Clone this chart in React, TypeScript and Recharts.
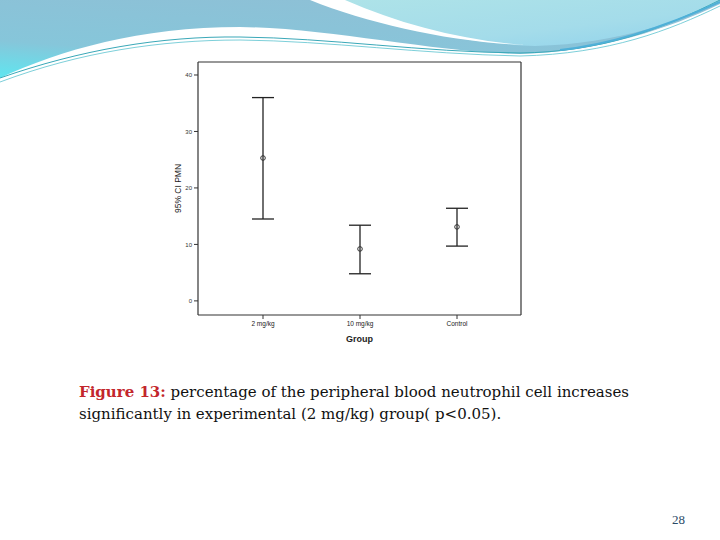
import React from "react";
import {
  ComposedChart,
  Scatter,
  ErrorBar,
  XAxis,
  YAxis,
  Label,
  CartesianGrid,
} from "recharts";

const groups = ["2 mg/kg", "10 mg/kg", "Control"];
const means = [25.3, 9.2, 13.1];
const lowers = [14.5, 4.8, 9.7];
const uppers = [36.0, 13.4, 16.4];
const yTicks = [0, 10, 20, 30, 40];

const data = groups.map((g, i) => ({
  group: g,
  mean: means[i],
  err: [means[i] - lowers[i], uppers[i] - means[i]],
}));

const OpenCircle = (props: any) => {
  const { cx, cy } = props;
  if (cx == null || cy == null) return null;
  return <circle cx={cx} cy={cy} r={2.3} fill="none" stroke="#333" strokeWidth={1} />;
};

function Waves() {
  return (
    <svg width={720} height={100} style={{ position: "absolute", left: 0, top: 0 }}>
      <defs>
        <linearGradient id="gBlue" x1="0" y1="1" x2="0.6" y2="0">
          <stop offset="0" stopColor="#5fe6f0" />
          <stop offset="0.35" stopColor="#86c6da" />
          <stop offset="1" stopColor="#8ec0d6" />
        </linearGradient>
        <linearGradient id="gLight" x1="0" y1="0" x2="1" y2="1">
          <stop offset="0" stopColor="#aee3e8" />
          <stop offset="0.6" stopColor="#a4dcea" />
          <stop offset="1" stopColor="#8fd2ec" />
        </linearGradient>
      </defs>
      <path
        d="M0,0 H720 V4 C670,28 600,52 520,54 C430,52 330,28 240,27 C140,27 60,50 0,78 Z"
        fill="url(#gBlue)"
      />
      <path
        d="M322,0 H720 V0 C690,18 620,44 535,46 C470,44 390,28 322,0 Z"
        fill="url(#gLight)"
      />
      <path
        d="M310,0 H345 C400,24 460,40 525,45 C450,42 370,24 310,0 Z"
        fill="#ffffff"
      />
      <path
        d="M0,78 C80,50 160,36 240,37 C330,38 420,52 520,53 C600,52 660,30 720,0"
        fill="none"
        stroke="#3aa8b8"
        strokeWidth={1}
      />
      <path
        d="M0,82 C80,52 160,40 240,40 C330,41 420,54 520,56 C610,54 670,30 720,6"
        fill="none"
        stroke="#5cc3cf"
        strokeWidth={0.8}
      />
      <path
        d="M560,50 C620,44 680,20 720,2"
        fill="none"
        stroke="#4fb0d8"
        strokeWidth={2}
      />
    </svg>
  );
}

export default function App() {
  return (
    <div
      style={{
        position: "absolute",
        left: 0,
        top: 0,
        width: 720,
        height: 540,
        background: "#ffffff",
        overflow: "hidden",
      }}
    >
      <Waves />
      <div style={{ position: "absolute", left: 160, top: 50 }}>
        <ComposedChart
          width={380}
          height={300}
          data={data}
          margin={{ top: 12, right: 19, bottom: 0, left: 0 }}
          style={{ fontFamily: "'Liberation Sans', Arial, sans-serif" }}
        >
          <CartesianGrid
            stroke="#333"
            strokeWidth={1.2}
            horizontalCoordinatesGenerator={({ offset }: any) => [offset.top]}
            verticalCoordinatesGenerator={({ offset }: any) => [offset.left + offset.width]}
          />
          <XAxis
            dataKey="group"
            type="category"
            height={35}
            padding={{ left: 65, right: 64 }}
            axisLine={{ stroke: "#333", strokeWidth: 1.2 }}
            tickLine={{ stroke: "#333" }}
            tickSize={4}
            tick={{ fontSize: 6.5, fill: "#222" }}
            interval={0}
          >
            <Label
              value="Group"
              position="insideBottom"
              offset={8}
              style={{ fontSize: 9, fontWeight: "bold", fill: "#222" }}
            />
          </XAxis>
          <YAxis
            type="number"
            domain={[-2.5, 42.3]}
            ticks={yTicks}
            width={38}
            axisLine={{ stroke: "#333", strokeWidth: 1.2 }}
            tickLine={{ stroke: "#333" }}
            tickSize={4}
            tickMargin={2}
            tick={{ fontSize: 6, fill: "#333" }}
            allowDataOverflow
          >
            <Label
              value="95% CI PMN"
              angle={-90}
              position="center"
              dx={-1}
              style={{ fontSize: 8.5, fill: "#222", textAnchor: "middle" }}
            />
          </YAxis>
          <Scatter dataKey="mean" shape={<OpenCircle />} isAnimationActive={false}>
            <ErrorBar
              dataKey="err"
              direction="y"
              width={11}
              stroke="#222"
              strokeWidth={1.3}
              isAnimationActive={false}
            />
          </Scatter>
        </ComposedChart>
      </div>
      <div
        style={{
          position: "absolute",
          left: 79,
          top: 381,
          width: 640,
          fontFamily: "'DejaVu Serif', 'Liberation Serif', serif",
          fontSize: 15,
          lineHeight: "22px",
          color: "#111",
          whiteSpace: "nowrap",
        }}
      >
        <span style={{ color: "#c3262c", fontWeight: "bold" }}>Figure 13:</span> percentage of the
        peripheral blood neutrophil cell increases
        <br />
        significantly in experimental (2 mg/kg) group( p&lt;0.05).
      </div>
      <div
        style={{
          position: "absolute",
          left: 672,
          top: 512,
          fontFamily: "'Liberation Serif', serif",
          fontSize: 13,
          color: "#2b4a66",
        }}
      >
        28
      </div>
    </div>
  );
}
